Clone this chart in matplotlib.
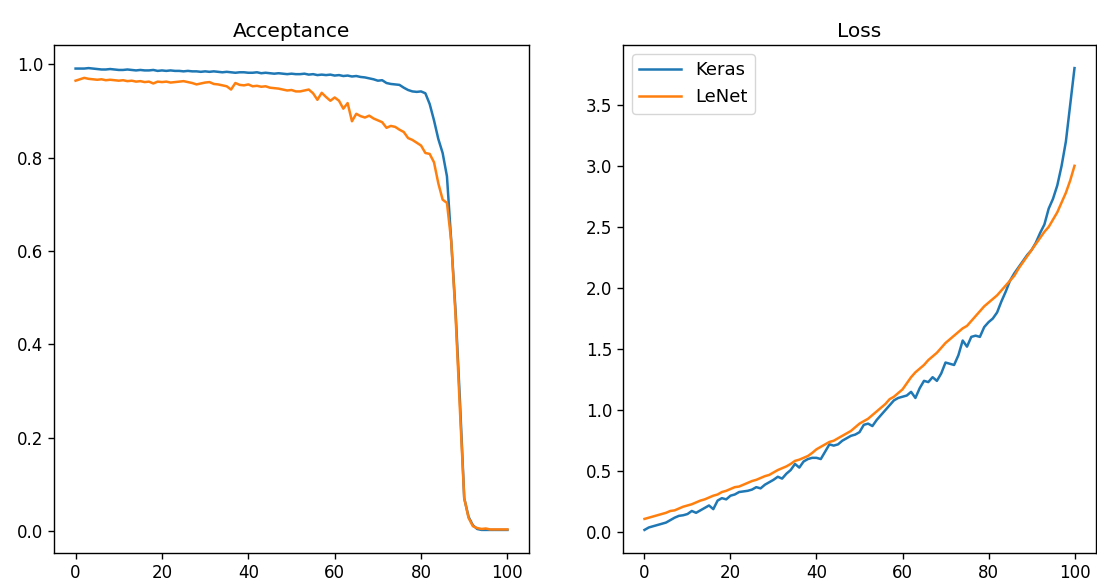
import numpy as np
import matplotlib
matplotlib.use("Agg")
import matplotlib.pyplot as plt

# x positions 0..100
steps = list(range(101))

acc_keras = [
    0.991, 0.991, 0.991, 0.992, 0.991, 0.990, 0.989, 0.989, 0.990, 0.989,
    0.988, 0.988, 0.989, 0.988, 0.987, 0.988, 0.987, 0.987, 0.988, 0.986,
    0.987, 0.986, 0.987, 0.986, 0.986, 0.985, 0.986, 0.985, 0.985, 0.984,
    0.985, 0.984, 0.985, 0.984, 0.983, 0.984, 0.983, 0.982, 0.983, 0.983,
    0.982, 0.982, 0.983, 0.981, 0.982, 0.981, 0.980, 0.981, 0.980, 0.979,
    0.980, 0.979, 0.979, 0.980, 0.978, 0.979, 0.977, 0.978, 0.977, 0.978,
    0.976, 0.977, 0.975, 0.976, 0.974, 0.975, 0.973, 0.972, 0.970, 0.968,
    0.965, 0.966, 0.960, 0.958, 0.957, 0.956, 0.950, 0.945, 0.942, 0.941,
    0.942, 0.938, 0.915, 0.880, 0.840, 0.810, 0.760, 0.620, 0.470, 0.280,
    0.070, 0.030, 0.012, 0.004, 0.002, 0.002, 0.002, 0.002, 0.002, 0.002,
    0.002,
]

acc_lenet = [
    0.965, 0.968, 0.971, 0.969, 0.968, 0.967, 0.968, 0.966, 0.967, 0.966,
    0.965, 0.966, 0.964, 0.965, 0.963, 0.964, 0.962, 0.963, 0.959, 0.963,
    0.962, 0.963, 0.961, 0.962, 0.963, 0.964, 0.962, 0.960, 0.957, 0.959,
    0.961, 0.962, 0.958, 0.957, 0.955, 0.953, 0.946, 0.960, 0.956, 0.955,
    0.957, 0.953, 0.954, 0.952, 0.953, 0.950, 0.949, 0.948, 0.946, 0.944,
    0.945, 0.942, 0.942, 0.944, 0.946, 0.938, 0.924, 0.939, 0.930, 0.922,
    0.929, 0.922, 0.905, 0.917, 0.878, 0.894, 0.889, 0.886, 0.890, 0.884,
    0.880, 0.876, 0.864, 0.868, 0.866, 0.860, 0.855, 0.842, 0.838, 0.832,
    0.826, 0.810, 0.808, 0.790, 0.745, 0.710, 0.703, 0.620, 0.460, 0.260,
    0.070, 0.028, 0.010, 0.006, 0.004, 0.005, 0.003, 0.003, 0.003, 0.003,
    0.003,
]

loss_keras = [
    0.02, 0.04, 0.05, 0.06, 0.07, 0.08, 0.10, 0.12, 0.135, 0.14,
    0.15, 0.175, 0.16, 0.18, 0.20, 0.22, 0.19, 0.26, 0.28, 0.27,
    0.30, 0.31, 0.33, 0.335, 0.34, 0.35, 0.37, 0.36, 0.39, 0.41,
    0.43, 0.455, 0.44, 0.48, 0.51, 0.56, 0.53, 0.58, 0.60, 0.61,
    0.61, 0.60, 0.66, 0.72, 0.71, 0.72, 0.75, 0.77, 0.79, 0.80,
    0.82, 0.88, 0.89, 0.87, 0.92, 0.96, 1.00, 1.04, 1.08, 1.10,
    1.11, 1.12, 1.15, 1.10, 1.18, 1.24, 1.23, 1.27, 1.24, 1.30,
    1.39, 1.38, 1.37, 1.45, 1.57, 1.52, 1.60, 1.61, 1.60, 1.68,
    1.72, 1.75, 1.80, 1.89, 1.97, 2.06, 2.12, 2.17, 2.22, 2.27,
    2.31, 2.37, 2.45, 2.52, 2.65, 2.73, 2.84, 3.00, 3.20, 3.50,
    3.80,
]

loss_lenet = [
    0.11, 0.12, 0.13, 0.14, 0.15, 0.16, 0.175, 0.18, 0.195, 0.21,
    0.22, 0.23, 0.245, 0.26, 0.27, 0.285, 0.30, 0.31, 0.33, 0.34,
    0.355, 0.37, 0.375, 0.39, 0.405, 0.42, 0.43, 0.445, 0.46, 0.47,
    0.49, 0.51, 0.525, 0.54, 0.56, 0.585, 0.595, 0.61, 0.625, 0.65,
    0.68, 0.70, 0.72, 0.74, 0.75, 0.77, 0.79, 0.81, 0.83, 0.86,
    0.89, 0.91, 0.93, 0.96, 0.99, 1.02, 1.05, 1.09, 1.11, 1.14,
    1.17, 1.22, 1.27, 1.31, 1.34, 1.37, 1.41, 1.44, 1.47, 1.51,
    1.55, 1.58, 1.61, 1.64, 1.67, 1.69, 1.73, 1.77, 1.81, 1.85,
    1.88, 1.91, 1.94, 1.98, 2.02, 2.06, 2.10, 2.16, 2.21, 2.26,
    2.31, 2.36, 2.41, 2.46, 2.50, 2.56, 2.62, 2.70, 2.78, 2.88,
    3.00,
]

plt.rcParams['font.size'] = 12
plt.rcParams['axes.linewidth'] = 1.0
plt.rcParams['xtick.major.size'] = 4.3
plt.rcParams['ytick.major.size'] = 4.3
plt.rcParams['xtick.major.width'] = 1.0
plt.rcParams['ytick.major.width'] = 1.0

W, H = 1097, 585
fig = plt.figure(figsize=(W / 100, H / 100), dpi=100)
ax1 = fig.add_axes([54 / W, (H - 553) / H, (529 - 54) / W, (553 - 45) / H])
ax2 = fig.add_axes([623 / W, (H - 553) / H, (1096 - 623) / W, (553 - 45) / H])

ax1.plot(steps, acc_keras, color='tab:blue', lw=1.8)
ax1.plot(steps, acc_lenet, color='tab:orange', lw=1.8)
ax1.set_title('Acceptance', fontsize=14.5)

ax2.plot(steps, loss_keras, color='tab:blue', lw=1.8, label='Keras')
ax2.plot(steps, loss_lenet, color='tab:orange', lw=1.8, label='LeNet')
ax2.set_title('Loss', fontsize=14.5)
ax2.legend(loc='upper left', fontsize=13, handlelength=2.3)

for ax in (ax1, ax2):
    ax.set_xticks([0, 20, 40, 60, 80, 100])

fig.savefig('out.png', dpi=100)
